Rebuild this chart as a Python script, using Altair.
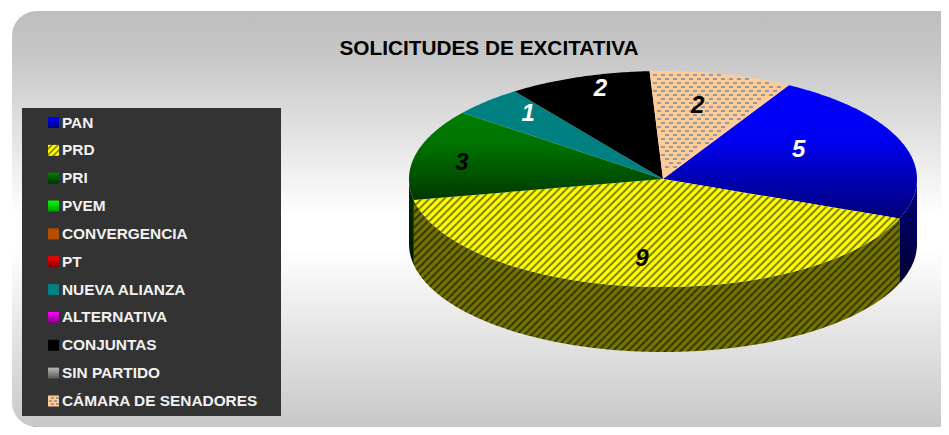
import math
import altair as alt

# ---- values ----
title_text = "SOLICITUDES DE EXCITATIVA"
legend_names = ["PAN", "PRD", "PRI", "PVEM", "CONVERGENCIA", "PT", "NUEVA ALIANZA",
                "ALTERNATIVA", "CONJUNTAS", "SIN PARTIDO", "CÁMARA DE SENADORES"]
legend_values = [5, 9, 3, 0, 0, 0, 1, 0, 2, 0, 2]

# ---- geometry / style ----
PAGE = 8
CX, CY, RX, RY, DEPTH = 663.0, 179.0, 254.0, 108.0, 65.0
FIRST_ANGLE = 29.7
W, H = 933, 419
PROJ = alt.Projection(type="identity", scale=1, translate=[-PAGE, -PAGE])


def px(a, cy=CY):
    r = math.radians(a)
    return [CX + RX * math.sin(r), cy - RY * math.cos(r)]


def arc(a0, a1, cy=CY):
    n = max(2, int(abs(a1 - a0) * 1.5))
    return [px(a0 + (a1 - a0) * i / n, cy) for i in range(n + 1)]


def bbox(ring):
    xs = [p[0] for p in ring]
    ys = [p[1] for p in ring]
    return max(xs) - min(xs), max(ys) - min(ys)


def vgrad(stops):
    return {"gradient": "linear", "x1": 0, "y1": 0, "x2": 0, "y2": 1,
            "stops": [{"offset": o, "color": c} for o, c in stops]}


def stripes(ring_w, ring_h, a, b, period, pattern):
    """Repeating band pattern along the direction a*x + b*y, in pixels."""
    R = a * ring_w + abs(b) * ring_h
    s = R / (a * a * ring_w * ring_w + b * b * ring_h * ring_h)
    vx, vy = a * ring_w * s, b * ring_h * s
    y1 = 0 if b >= 0 else 1
    n = int(R / period) + 1
    stops = []
    for k in range(n):
        for off, col in pattern:
            t = (k + off) * period / R
            if t <= 1:
                stops.append({"offset": round(t, 5), "color": col})
    return {"gradient": "linear", "x1": 0, "y1": y1, "x2": round(vx, 5),
            "y2": round(y1 + vy, 5), "stops": stops}


def hatch(w, h, c1, c2, period=7.5):
    return stripes(w, h, 1, 1, period,
                   [(0, c1), (0.4, c1), (0.6, c2), (0.75, c2), (1, c1)])


def shape(ring, fill):
    ring = [[round(x, 2), round(y, 2)] for x, y in ring]
    ring = ring + [ring[0]]
    feat = {"type": "Feature", "properties": {},
            "geometry": {"type": "Polygon", "coordinates": [ring]}}
    return alt.Chart(alt.Data(values=[feat])).mark_geoshape(fill=fill).properties(projection=PROJ)


def inside(ring, x, y):
    hit = False
    n = len(ring)
    for i in range(n):
        x0, y0 = ring[i]
        x1, y1 = ring[(i + 1) % n]
        if (y0 > y) != (y1 > y) and x < x0 + (y - y0) * (x1 - x0) / (y1 - y0):
            hit = not hit
    return hit


def dash_pattern(ring, color, dw=4, dh=2, step_x=8, step_y=4):
    """Staggered small dashes, kept only where a dash lies inside the ring."""
    xs = [p[0] for p in ring]
    ys = [p[1] for p in ring]
    polys = []
    row = 0
    y = int(min(ys)) - 1
    while y < max(ys):
        x = int(min(xs)) - 8 + (step_x // 2 if row % 2 else 0)
        while x < max(xs):
            corners = [[x, y], [x + dw, y], [x + dw, y + dh], [x, y + dh]]
            if all(inside(ring, cx, cy) for cx, cy in corners):
                polys.append([corners + [corners[0]]])
            x += step_x
        y += step_y
        row += 1
    feat = {"type": "Feature", "properties": {},
            "geometry": {"type": "MultiPolygon", "coordinates": polys}}
    return alt.Chart(alt.Data(values=[feat])).mark_geoshape(fill=color).properties(projection=PROJ)


total = sum(legend_values)
order = [i for i, v in enumerate(legend_values) if v > 0]
slices = {}
a = FIRST_ANGLE
for i in order:
    a1 = a + 360 * legend_values[i] / total
    slices[legend_names[i]] = (a, a1)
    a = a1

TOP_FILL = {
    "PAN": [(0, "#0000ff"), (0.42, "#0000f0"), (1, "#000078")],
    "PRI": [(0, "#008000"), (0.4, "#007000"), (1, "#003800")],
    "NUEVA ALIANZA": [(0, "#008080"), (1, "#008080")],
    "CONJUNTAS": [(0, "#000000"), (1, "#000000")],
}
WALL_FILL = {
    "PAN": [(0, "#000080"), (1, "#000030")],
    "PRI": [(0, "#003300"), (1, "#001800")],
}

layers = []

# background panel with its shadow
bg_grad = vgrad([(0, "#bebebe"), (0.1, "#c6c6c6"), (0.49, "#ffffff"), (0.57, "#ffffff"), (1, "#c8c8c8")])
layers.append(alt.Chart(alt.Data(values=[{"a": 1}])).mark_rect(
    fill="#000000", cornerRadiusTopLeft=25, cornerRadiusBottomLeft=25).encode(
    x=alt.value(14 - PAGE), x2=alt.value(W), y=alt.value(12 - PAGE), y2=alt.value(H)))
layers.append(alt.Chart(alt.Data(values=[{"a": 1}])).mark_rect(
    fill=bg_grad, cornerRadiusTopLeft=25, cornerRadiusBottomLeft=25).encode(
    x=alt.value(12 - PAGE), x2=alt.value(W), y=alt.value(11 - PAGE), y2=alt.value(H)))

# title
layers.append(alt.Chart(alt.Data(values=[{"t": title_text}])).mark_text(
    font="Liberation Sans", fontWeight="bold", fontSize=20.8, color="#000000", align="center", baseline="alphabetic"
).encode(text="t:N", x=alt.value(489 - PAGE), y=alt.value(54.5 - PAGE)))

# legend panel
layers.append(alt.Chart(alt.Data(values=[{"a": 1}])).mark_rect(fill="#333333").encode(
    x=alt.value(22 - PAGE), x2=alt.value(281 - PAGE), y=alt.value(108 - PAGE), y2=alt.value(416 - PAGE)))

LEG_TOP, LEG_BOTTOM = 122.5, 401.0
legend_y = alt.Y("name:N", scale=alt.Scale(type="point", domain=legend_names, padding=0,
                                           range=[LEG_TOP - PAGE, LEG_BOTTOM - PAGE]), axis=None)
SW = 11
swatch_fill = {
    "PAN": vgrad([(0, "#0000ff"), (1, "#000080")]),
    "PRD": hatch(SW, SW, "#ffff00", "#7f7f00", 6.0),
    "PRI": vgrad([(0, "#008000"), (1, "#003300")]),
    "PVEM": vgrad([(0, "#00ff00"), (1, "#009900")]),
    "CONVERGENCIA": stripes(SW, SW, 1, 1, 3.0, [(0, "#cc5500"), (0.5, "#a84400"), (1, "#cc5500")]),
    "PT": vgrad([(0, "#ff0000"), (1, "#800000")]),
    "NUEVA ALIANZA": "#008080",
    "ALTERNATIVA": vgrad([(0, "#ff00ff"), (1, "#800080")]),
    "CONJUNTAS": "#000000",
    "SIN PARTIDO": vgrad([(0, "#b8b8b8"), (1, "#555555")]),
    "CÁMARA DE SENADORES": "#ffcc99",
}
for name in legend_names:
    layers.append(alt.Chart(alt.Data(values=[{"name": name}])).mark_point(
        shape="square", size=SW * SW, filled=True, fill=swatch_fill[name], opacity=1, strokeWidth=0
    ).encode(x=alt.value(53.5 - PAGE), y=legend_y))
layers.append(alt.Chart(alt.Data(values=[{"name": n} for n in legend_names])).mark_text(
    font="Liberation Sans", fontWeight="bold", fontSize=15.4, color="#f2f2f2", align="left", baseline="middle"
).encode(text="name:N", x=alt.value(62 - PAGE), y=legend_y))
_sy = LEG_BOTTOM
layers.append(dash_pattern([[47.5, _sy - 6], [59.5, _sy - 6], [59.5, _sy + 6], [47.5, _sy + 6]],
                           "#aa9988", dw=3, dh=2, step_x=5, step_y=3))

# side walls
for name, (a0, a1) in slices.items():
    lo, hi = max(a0 % 360, 90), min(a0 % 360 + (a1 - a0), 270)
    if a1 > 360:
        continue
    if hi <= lo:
        continue
    ring = arc(lo, hi) + arc(hi, lo, CY + DEPTH)
    w, h = bbox(ring)
    if name == "PRD":
        fill = hatch(w, h, "#747400", "#363600")
    else:
        fill = vgrad(WALL_FILL[name])
    layers.append(shape(ring, fill))

# top faces
for name, (a0, a1) in slices.items():
    ring = [[CX, CY]] + arc(a0, a1)
    w, h = bbox(ring)
    if name == "PRD":
        layers.append(shape(ring, hatch(w, h, "#ffff00", "#808000")))
    elif name == "CÁMARA DE SENADORES":
        layers.append(shape(ring, "#ffcc99"))
        layers.append(dash_pattern(ring, "#999999"))
    else:
        layers.append(shape(ring, vgrad(TOP_FILL[name])))

# value labels: placed from each slice's mid angle
LABEL_R = {"PAN": (0.57, 0.84), "PRD": (0.88, 0.73), "PRI": (0.81, 0.72),
           "NUEVA ALIANZA": (0.76, 0.85), "CONJUNTAS": (0.73, 0.90), "CÁMARA DE SENADORES": (0.61, 0.71)}
LABEL_COLOR = {"PAN": "#ffffff", "PRD": "#000000", "PRI": "#000000",
               "NUEVA ALIANZA": "#ffffff", "CONJUNTAS": "#ffffff", "CÁMARA DE SENADORES": "#000000"}
for name, (a0, a1) in slices.items():
    mid = math.radians((a0 + a1) / 2)
    fx, fy = LABEL_R[name]
    lx = CX + RX * fx * math.sin(mid) - 1
    ly = CY - RY * fy * math.cos(mid) + 1.5
    layers.append(alt.Chart(alt.Data(values=[{"v": legend_values[legend_names.index(name)]}])).mark_text(
        font="Liberation Sans", fontWeight="bold", fontStyle="italic", fontSize=24,
        color=LABEL_COLOR[name], align="center", baseline="middle"
    ).encode(text="v:Q", x=alt.value(lx - PAGE), y=alt.value(ly - PAGE)))

chart = alt.layer(*layers).properties(
    width=W, height=H, padding=0, background="#ffffff"
).configure_view(strokeWidth=0)

chart.save("out.html", embed_options={"renderer": "svg", "actions": False})
